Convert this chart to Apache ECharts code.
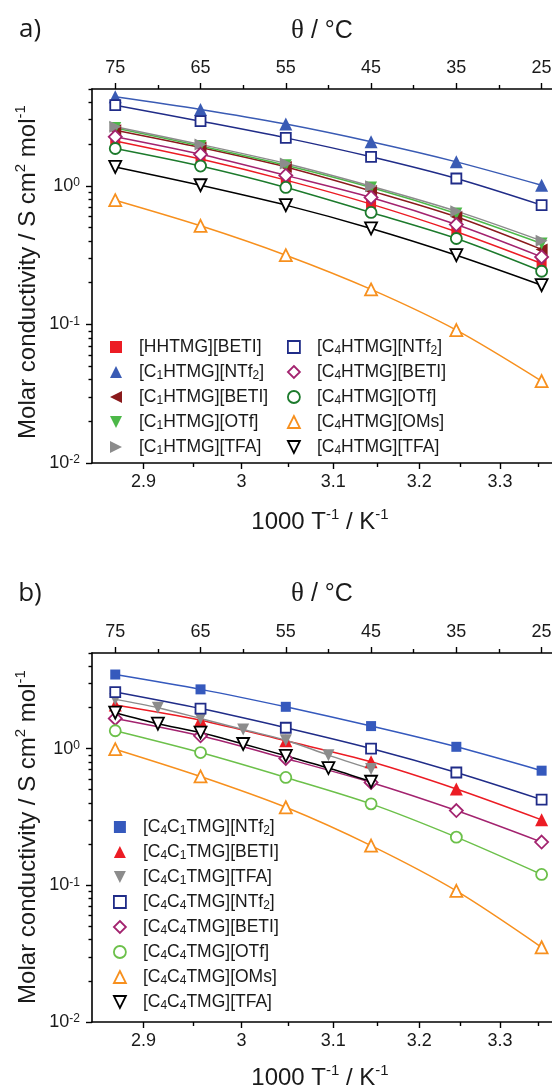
<!DOCTYPE html>
<html><head><meta charset="utf-8">
<script src="https://cdn.jsdelivr.net/npm/echarts@6/dist/echarts.min.js"></script>
<style>html,body{margin:0;padding:0;background:#fff}#c{width:552px;height:1090px}</style>
</head><body><div id="c"></div>
<script>
// ---- axes / ticks ----
const thetaA = [75, 65, 55, 45, 35, 25];
const thetaB = [75, 65, 55, 45, 35, 25];
const thetaB7 = [75, 70, 65, 60, 55, 50, 45];
const thetaTicksMajor = [75, 65, 55, 45, 35, 25];
const thetaTicksMinor = [70, 60, 50, 40, 30];
const invTTicksMajor = [2.9, 3.0, 3.1, 3.2, 3.3];
const invTTicksMinor = [2.95, 3.05, 3.15, 3.25, 3.35];
const yTicksMajor = [0.01, 0.1, 1];
const yTicksMinor = [0.02,0.03,0.04,0.05,0.06,0.07,0.08,0.09,0.2,0.3,0.4,0.5,0.6,0.7,0.8,0.9,2,3,4,5];
const invTRange = [2.85, 3.40];

// ---- panel a data (molar conductivity, S cm2 mol-1) ----
const HHTMG_BETI   = [2.11, 1.56, 1.10, 0.738, 0.466, 0.275];
const C1HTMG_NTf2  = [4.39, 3.56, 2.79, 2.08, 1.49, 1.01];
const C1HTMG_BETI  = [2.52, 1.89, 1.37, 0.92, 0.598, 0.348];
const C1HTMG_OTf   = [2.62, 1.94, 1.41, 0.974, 0.632, 0.384];
const C1HTMG_TFA   = [2.67, 1.99, 1.45, 0.995, 0.657, 0.401];
const C4HTMG_NTf2  = [3.82, 2.93, 2.22, 1.62, 1.13, 0.726];
const C4HTMG_BETI  = [2.26, 1.69, 1.19, 0.825, 0.526, 0.307];
const C4HTMG_OTf   = [1.86, 1.39, 0.974, 0.643, 0.417, 0.242];
const C4HTMG_OMs   = [0.788, 0.515, 0.316, 0.179, 0.091, 0.039];
const C4HTMG_TFA   = [1.37, 1.01, 0.726, 0.493, 0.316, 0.192];

// ---- panel b data ----
const C4C1TMG_NTf2 = [3.48, 2.71, 2.02, 1.46, 1.03, 0.689];
const C4C1TMG_BETI = [2.08, 1.61, 1.14, 0.80, 0.506, 0.301];
const C4C1TMG_TFA  = [2.29, 1.99, 1.66, 1.38, 1.15, 0.895, 0.708];
const C4C4TMG_NTf2 = [2.59, 1.96, 1.42, 1.00, 0.668, 0.423];
const C4C4TMG_BETI = [1.66, 1.24, 0.846, 0.565, 0.352, 0.207];
const C4C4TMG_OTf  = [1.35, 0.935, 0.615, 0.394, 0.225, 0.12];
const C4C4TMG_OMs  = [0.99, 0.625, 0.372, 0.195, 0.091, 0.0352];
const C4C4TMG_TFA  = [1.83, 1.52, 1.31, 1.08, 0.885, 0.72, 0.572];

const FONT = 'Liberation Sans';
const toTheta = v => 1000 / v - 273.15;
const pairs = (xs, ys) => ys.map((y, i) => [xs[i], y]);

const TRI_L = 'path://M0,5L10,0L10,10Z';
const TRI_R = 'path://M10,5L0,0L0,10Z';
const TRI_D = 'path://M0,0L10,0L5,10Z';

// [name, xs, ys, color, symbol, size, hollow]
const seriesA = [
  ['[HHTMG][BETI]', thetaA, HHTMG_BETI, '#ec1c24', 'rect', 10, false],
  ['[C1HTMG][NTf2]', thetaA, C1HTMG_NTf2, '#3a5bb4', 'triangle', 13, false],
  ['[C1HTMG][BETI]', thetaA, C1HTMG_BETI, '#8a1a1c', TRI_L, 12, false],
  ['[C1HTMG][OTf]', thetaA, C1HTMG_OTf, '#4cb848', TRI_D, 12, false],
  ['[C1HTMG][TFA]', thetaA, C1HTMG_TFA, '#8c8c8c', TRI_R, 12, false],
  ['[C4HTMG][NTf2]', thetaA, C4HTMG_NTf2, '#202c88', 'rect', 10, true],
  ['[C4HTMG][BETI]', thetaA, C4HTMG_BETI, '#a3236f', 'diamond', 13, true],
  ['[C4HTMG][OTf]', thetaA, C4HTMG_OTf, '#1c7a2c', 'circle', 11, true],
  ['[C4HTMG][OMs]', thetaA, C4HTMG_OMs, '#f7901e', 'triangle', 12, true],
  ['[C4HTMG][TFA]', thetaA, C4HTMG_TFA, '#000000', TRI_D, 12, true]
];
const seriesB = [
  ['[C4C1TMG][NTf2]', thetaB, C4C1TMG_NTf2, '#3559bd', 'rect', 10, false],
  ['[C4C1TMG][BETI]', thetaB, C4C1TMG_BETI, '#ec1c24', 'triangle', 13, false],
  ['[C4C1TMG][TFA]', thetaB7, C4C1TMG_TFA, '#8c8c8c', TRI_D, 12, false],
  ['[C4C4TMG][NTf2]', thetaB, C4C4TMG_NTf2, '#202c88', 'rect', 10, true],
  ['[C4C4TMG][BETI]', thetaB, C4C4TMG_BETI, '#a3236f', 'diamond', 13, true],
  ['[C4C4TMG][OTf]', thetaB, C4C4TMG_OTf, '#6cc04a', 'circle', 11, true],
  ['[C4C4TMG][OMs]', thetaB, C4C4TMG_OMs, '#f7901e', 'triangle', 12, true],
  ['[C4C4TMG][TFA]', thetaB7, C4C4TMG_TFA, '#000000', TRI_D, 12, true]
];

function styleOf(c, hollow) {
  return hollow ? {color: '#fff', borderColor: c, borderWidth: 1.8}
                : {color: c, borderColor: c, borderWidth: 0};
}
function mkSeries(def, xi, yi) {
  const [name, xs, ys, c, sym, size, hollow] = def;
  return {
    type: 'line', name, xAxisIndex: xi, yAxisIndex: yi,
    data: pairs(xs, ys), smooth: 0.3, symbol: sym, symbolSize: size,
    showAllSymbol: true, silent: true, animation: false,
    lineStyle: {color: c, width: 1.5}, itemStyle: styleOf(c, hollow), z: hollow ? 3 : 2
  };
}
function legendItems(defs) {
  return defs.map(d => ({name: d[0], icon: d[4], itemStyle: styleOf(d[3], d[6])}));
}
const legendFmt = n => '{sp| }' + n.replace(/C(\d)/g, 'C{s|$1}').replace('NTf2', 'NTf{s|2}');
const legendText = {
  fontFamily: FONT, fontSize: 17.5, color: '#1a1a1a', lineHeight: 20,
  rich: {
    s: {fontFamily: FONT, fontSize: 12, lineHeight: 13, verticalAlign: 'bottom', color: '#1a1a1a'},
    sp: {width: 12, fontSize: 17.5, lineHeight: 20}
  }
};
function mkLegend(defs, left, top) {
  return {
    orient: 'vertical', left, top, padding: 0, itemWidth: 12, itemHeight: 12, itemGap: 5,
    selectedMode: false, formatter: legendFmt, textStyle: legendText, data: legendItems(defs)
  };
}

const XMIN = toTheta(invTRange[1]), XMAX = toTheta(invTRange[0]);
const AX = {color: '#000', width: 1.6};
const TICKC = {color: '#000', width: 1.4};
const LBL = {fontFamily: FONT, fontSize: 18, color: '#1a1a1a'};
function xAxes(g) {
  const base = {gridIndex: g, type: 'value', inverse: true, min: XMIN, max: XMAX, splitLine: {show: false}};
  const fmtInv = v => String(+(1000 / (v + 273.15)).toFixed(2));
  return [
    Object.assign({}, base, {position: 'top', axisLine: {show: true, onZero: false, lineStyle: AX},
      axisTick: {show: true, length: 6, customValues: thetaTicksMajor, lineStyle: TICKC},
      axisLabel: Object.assign({customValues: thetaTicksMajor, margin: 12}, LBL)}),
    Object.assign({}, base, {position: 'top', axisLine: {show: false, onZero: false},
      axisTick: {show: true, length: 4, customValues: thetaTicksMinor, lineStyle: TICKC},
      axisLabel: {show: false}}),
    Object.assign({}, base, {position: 'bottom', axisLine: {show: true, onZero: false, lineStyle: AX},
      axisTick: {show: true, length: 6, customValues: invTTicksMajor.map(toTheta), lineStyle: TICKC},
      axisLabel: Object.assign({customValues: invTTicksMajor.map(toTheta), margin: 10, formatter: fmtInv}, LBL)}),
    Object.assign({}, base, {position: 'bottom', axisLine: {show: false, onZero: false},
      axisTick: {show: true, length: 4, customValues: invTTicksMinor.map(toTheta), lineStyle: TICKC},
      axisLabel: {show: false}})
  ];
}
function yAxes(g) {
  const base = {gridIndex: g, type: 'log', logBase: 10, min: 0.01, max: 5, position: 'left', splitLine: {show: false}};
  return [
    Object.assign({}, base, {axisLine: {show: true, onZero: false, lineStyle: AX},
      axisTick: {show: true, length: 6, customValues: yTicksMajor, lineStyle: TICKC},
      axisLabel: Object.assign({customValues: yTicksMajor, margin: 12,
        formatter: v => '10{sup|' + Math.round(Math.log10(v)) + '}',
        rich: {sup: {fontFamily: FONT, fontSize: 12, verticalAlign: 'top', lineHeight: 12, color: '#1a1a1a'}}}, LBL)}),
    Object.assign({}, base, {axisLine: {show: false, onZero: false},
      axisTick: {show: true, length: 3.5, customValues: yTicksMinor, lineStyle: TICKC},
      axisLabel: {show: false}})
  ];
}

const supRich = {
  sup: {fontFamily: FONT, fontSize: 15, lineHeight: 14, verticalAlign: 'top', fill: '#1a1a1a', color: '#1a1a1a'},
  th: {fontFamily: 'Liberation Serif', fontSize: 27, lineHeight: 30, fill: '#1a1a1a', color: '#1a1a1a'}
};
function txt(text, x, y, size, opts) {
  return Object.assign({
    type: 'text', x, y, silent: true,
    style: {text, fontFamily: (opts && opts.family) || FONT, fontSize: size, lineHeight: 30,
      fill: '#1a1a1a', align: 'center', verticalAlign: 'middle', rich: supRich}
  }, opts && opts.rotation ? {rotation: opts.rotation} : {});
}
const yTitle = 'Molar conductivity / S cm{sup|2} mol{sup|-1}';
const xTitle = '1000 T{sup|-1} / K{sup|-1}';
const topTitle = '{th|θ} / °C';

const chart = echarts.init(document.getElementById('c'), null, {renderer: 'canvas'});
chart.setOption({
  backgroundColor: '#fff',
  animation: false,
  grid: [
    {left: 92, top: 89, width: 484, height: 374, containLabel: false, outerBoundsMode: 'none'},
    {left: 92, top: 653, width: 484, height: 369, containLabel: false, outerBoundsMode: 'none'}
  ],
  xAxis: xAxes(0).concat(xAxes(1)),
  yAxis: yAxes(0).concat(yAxes(1)),
  legend: [
    mkLegend(seriesA.slice(0, 5), 110, 337),
    mkLegend(seriesA.slice(5), 287, 337),
    mkLegend(seriesB, 113, 817)
  ],
  series: seriesA.map(d => mkSeries(d, 0, 0)).concat(seriesB.map(d => mkSeries(d, 4, 2))),
  graphic: [
    txt('a)', 30, 30, 26, {family: 'Open Sans'}),
    txt('b)', 30, 594, 26, {family: 'Open Sans'}),
    txt(topTitle, 322, 31, 25),
    txt(topTitle, 322, 594, 25),
    txt(xTitle, 320, 522, 24),
    txt(xTitle, 320, 1078, 24),
    txt(yTitle, 28, 272, 24, {rotation: Math.PI / 2}),
    txt(yTitle, 28, 837, 24, {rotation: Math.PI / 2})
  ]
});
</script></body></html>
